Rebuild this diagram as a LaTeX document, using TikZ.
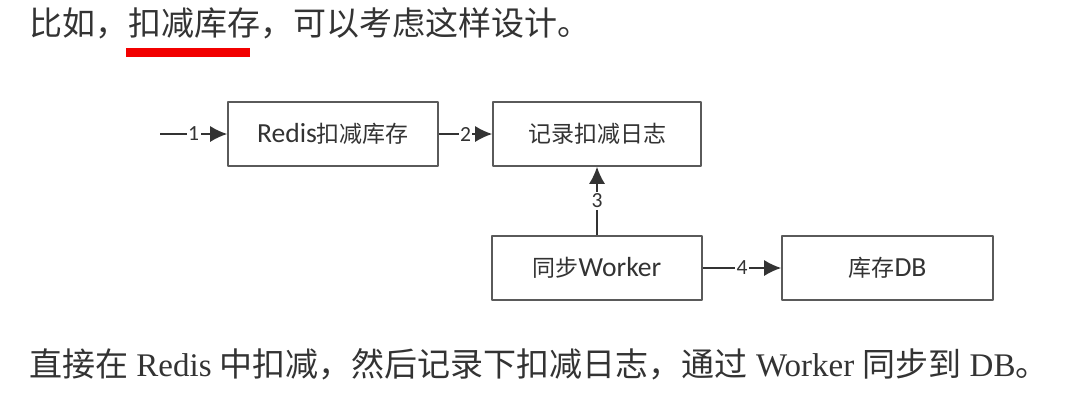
\documentclass[tikz,border=0pt]{standalone}
\usepackage{fontspec}
\setmainfont{Liberation Serif}
\newfontfamily\cjk{Noto Sans CJK SC}
\newfontfamily\calib[Scale=1.2]{Carlito}
\usetikzlibrary{arrows.meta}
\definecolor{ink}{HTML}{333333}
\definecolor{boxline}{HTML}{5A5A5A}
\definecolor{redline}{HTML}{F20000}
\begin{document}
\begin{tikzpicture}[x=1pt,y=-1pt,>={Latex[length=17pt,width=16pt]},line join=bevel,
    box/.style={draw=boxline,line width=1.6pt,rectangle,minimum width=210pt,minimum height=64pt,
      text=ink,font=\fontsize{23}{27}\selectfont},
    num/.style={fill=white,inner sep=1.5pt,text=ink,font=\calib\fontsize{18}{20}\selectfont},
    flow/.style={->,draw=ink,line width=1.6pt},
    body/.style={anchor=west,inner sep=0pt,text=ink,font=\fontsize{33}{39}\selectfont}]
    %%
    \fill [white] (0,0) rectangle (1068,416);
    \useasboundingbox (0,0) rectangle (1068,416);
    \node (intro) at (29,23) [body] {\cjk 比如，扣减库存，可以考虑这样设计。};
    \fill [redline] (126,48) rectangle (250,57);
    %
    \coordinate (start) at (160,134);
    \node (redis) at (333,134) [box] {\calib Redis\cjk 扣减库存};
    \node (log) at (597,134) [box,minimum width=208pt] {\cjk 记录扣减日志};
    \node (worker) at (597,268) [box] {\cjk 同步\calib Worker};
    \node (db) at (887.5,268) [box,minimum width=211pt] {\cjk 库存\calib DB};
    \draw [flow] (start) -- node [num] {1} (redis);
    \draw [flow] (redis) -- node [num] {2} (log);
    \draw [flow] (worker) -- node [num] {3} (log);
    \draw [flow] (worker) -- node [num] {4} (db);
    %
    \node (summary) at (29,364) [body] {{\cjk 直接在} Redis {\cjk 中扣减，然后记录下扣减日志，通过} Worker {\cjk 同步到} DB{\cjk 。}};
    %
\end{tikzpicture}
\end{document}
